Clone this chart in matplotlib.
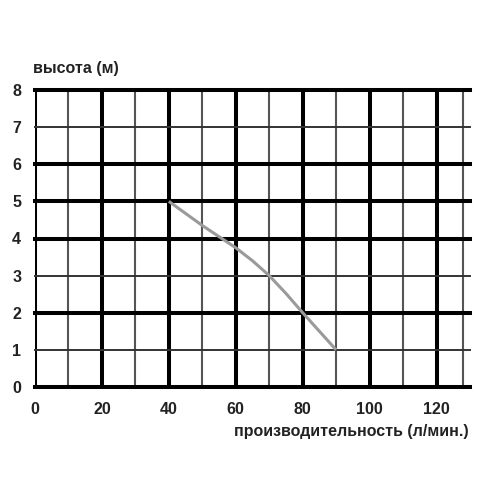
import matplotlib
matplotlib.use("Agg")
import matplotlib.pyplot as plt

# pump curve: flow (l/min) vs head (m)
flow = [40, 50, 60, 65, 70, 75, 80, 90]
head = [5.0, 4.35, 3.75, 3.4, 3.0, 2.52, 2.0, 1.0]

x_ticks = [0, 20, 40, 60, 80, 100, 120]
y_ticks = [0, 1, 2, 3, 4, 5, 6, 7, 8]

# grid lines: (position, heavy?)
v_lines = [(0, True), (10, False), (20, True), (30, False), (40, True), (50, False),
           (60, True), (70, False), (80, True), (90, False), (100, True), (110, False),
           (120, True), (128, False)]
h_lines = [(0, True), (1, False), (2, True), (3, False), (4, True), (5, True),
           (6, True), (7, False), (8, True)]

plt.rcParams['font.family'] = ['Liberation Sans', 'DejaVu Sans']

fig = plt.figure(figsize=(5, 5), dpi=100)
ax = fig.add_axes([0.07, 0.226, 0.87, 0.594])
ax.set_xlim(0, 130)
ax.set_ylim(0, 8)
for s in ax.spines.values():
    s.set_visible(False)

for x, heavy in v_lines:
    if heavy:
        ax.axvline(x, color='black', lw=2.9, zorder=1)
    else:
        ax.axvline(x, color='#555555' if x % 20 else '#111111', lw=1.5, zorder=1)
for y, heavy in h_lines:
    ax.axhline(y, color='black' if heavy else '#333333', lw=2.9 if heavy else 1.4,
               zorder=1, clip_on=False)

ax.plot(flow, head, color='#9a9a9a', lw=2.2, zorder=3, solid_capstyle='butt')

ax.set_xticks(x_ticks)
ax.set_yticks(y_ticks)
ax.tick_params(axis='x', length=0, labelsize=11.5, colors='#222222', pad=11)
ax.tick_params(axis='y', length=0, labelsize=11.5, colors='#222222', pad=10)
for lab in ax.get_xticklabels() + ax.get_yticklabels():
    lab.set_fontweight('bold')

fig.text(0.066, 0.855, 'высота (м)', fontsize=11.5, fontweight='bold', color='#222222')
fig.text(0.937, 0.128, 'производительность (л/мин.)', fontsize=11.5, fontweight='bold',
         color='#222222', ha='right')

fig.savefig('out.png', dpi=100)
